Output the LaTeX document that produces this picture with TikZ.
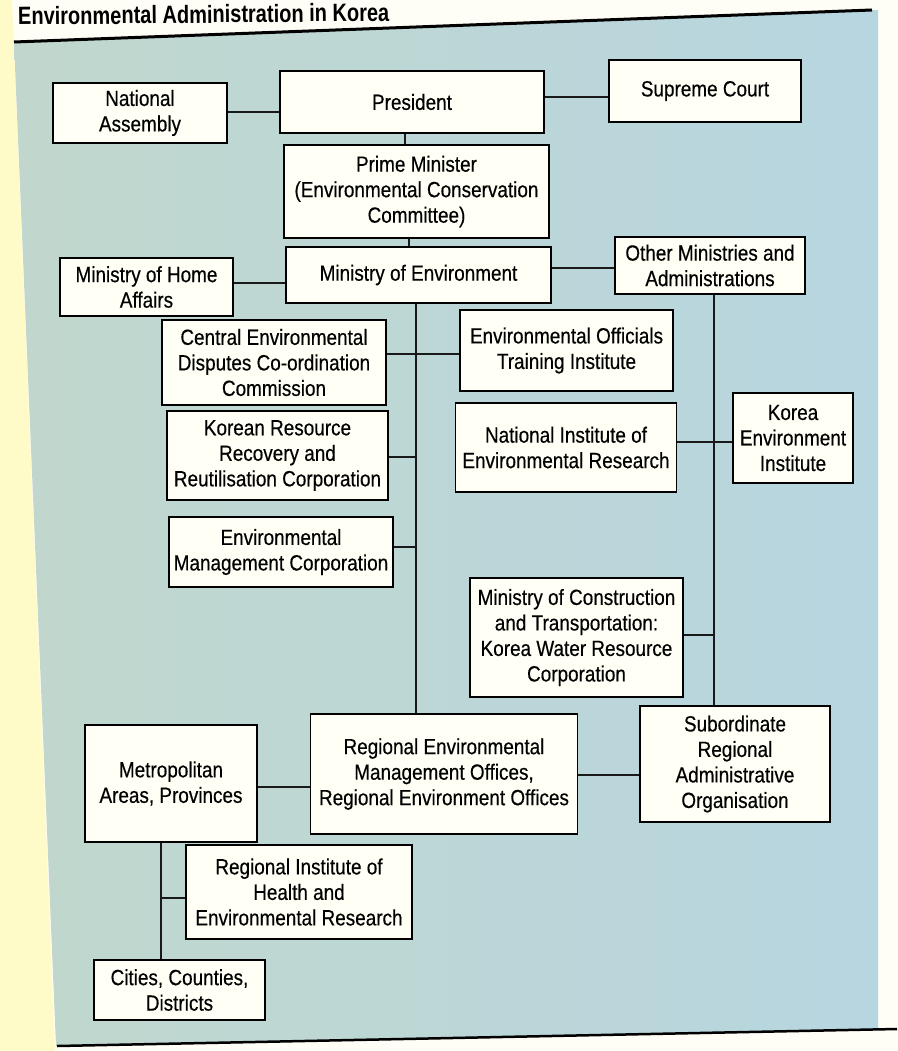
\documentclass[tikz,border=0pt]{standalone}
\usepackage{fontspec}
\setmainfont{Liberation Sans}[FakeStretch=0.86,FakeBold=0.4]
\newfontfamily\titlefont{Liberation Sans}[FakeStretch=0.8]
\definecolor{pagewhite}{HTML}{FFFEF6}
\definecolor{pageyellow}{HTML}{FFFBC9}
\definecolor{panelL}{HTML}{C1D7CD}
\definecolor{panelR}{HTML}{B7D6E0}
\definecolor{boxfill}{HTML}{FFFFF5}
\newcommand\bxfont{\fontsize{22}{25.5}\selectfont}
\tikzset{
  box/.style={draw=black, line width=1.8pt, fill=boxfill, inner sep=0pt, align=center, font=\bxfont, text=black},
  link/.style={line width=1.6pt, draw=black!90}
}
\begin{document}
\begin{tikzpicture}[x=1pt,y=-1pt]
\useasboundingbox (0,0) rectangle (897,1051);
% page
\fill[pagewhite] (0,0) rectangle (897,1051);
\fill[pageyellow] (0,0) -- (12,0) -- (55,1051) -- (0,1051) -- cycle;
\shade[left color=panelL, right color=panelR] (14,42) -- (878,10) -- (878,1029) -- (56,1046) -- cycle;
\draw[line width=3pt, black] (14,42) -- (872,10);
\draw[line width=2.5pt, black] (57,1046) -- (897,1029);
\node[anchor=base west, font=\titlefont\bfseries\fontsize{25}{28}\selectfont, inner sep=0pt, rotate=0.6] (title) at (18,25) {Environmental Administration in Korea};

% boxes
\node[box, minimum width=174pt, minimum height=60pt] (na) at (140,113) {National\\Assembly};
\node[box, minimum width=264pt, minimum height=62pt] (pres) at (412,102) {President};
\node[box, minimum width=192pt, minimum height=62pt] (sc) at (705,91) {Supreme Court};
\node[box, minimum width=265pt, minimum height=93pt] (pm) at (416.5,191.5) {Prime Minister\\(Environmental Conservation\\Committee)};
\node[box, minimum width=173pt, minimum height=58pt] (mha) at (146.5,287) {Ministry of Home\\Affairs};
\node[box, minimum width=265pt, minimum height=56pt] (menv) at (418.5,275) {Ministry of Environment};
\node[box, minimum width=190pt, minimum height=57pt] (oma) at (710,265.5) {Other Ministries and\\Administrations};
\node[box, minimum width=224pt, minimum height=85pt] (cedc) at (274,362.5) {Central Environmental\\Disputes Co-ordination\\Commission};
\node[box, minimum width=213pt, minimum height=81pt] (eoti) at (566.5,350.5) {Environmental Officials\\Training Institute};
\node[box, minimum width=221pt, minimum height=89pt] (krrr) at (277.5,455.5) {Korean Resource\\Recovery and\\Reutilisation Corporation};
\node[box, minimum width=221pt, minimum height=89pt] (nier) at (566,447.5) {National Institute of\\Environmental Research};
\node[box, minimum width=120pt, minimum height=90pt] (kei) at (793,438) {Korea\\Environment\\Institute};
\node[box, minimum width=224pt, minimum height=70pt] (emc) at (281,552) {Environmental\\Management Corporation};
\node[box, minimum width=213pt, minimum height=119pt] (moct) at (576.5,637.5) {Ministry of Construction\\and Transportation:\\Korea Water Resource\\Corporation};
\node[box, minimum width=172pt, minimum height=117pt] (metro) at (171,783.5) {Metropolitan\\Areas, Provinces};
\node[box, minimum width=267pt, minimum height=120pt] (remo) at (444,774) {Regional Environmental\\Management Offices,\\Regional Environment Offices};
\node[box, minimum width=190pt, minimum height=116pt] (srao) at (735,764) {Subordinate\\Regional\\Administrative\\Organisation};
\node[box, minimum width=226pt, minimum height=94pt] (riher) at (299,892) {Regional Institute of\\Health and\\Environmental Research};
\node[box, minimum width=171pt, minimum height=60pt] (ccd) at (179.5,990) {Cities, Counties,\\Districts};

% helper coordinates
\coordinate (xa) at (405,0);
\coordinate (xb) at (409,0);
\coordinate (tx) at (416,0);
\coordinate (rx) at (714,0);
\coordinate (mx) at (161,0);
\coordinate (ya) at (0,112);
\coordinate (yb) at (0,97);
\coordinate (yc) at (0,283);
\coordinate (yd) at (0,268);
\coordinate (ye) at (0,354);
\coordinate (yf) at (0,457);
\coordinate (yg) at (0,547);
\coordinate (yh) at (0,442);
\coordinate (yi) at (0,635);
\coordinate (yj) at (0,787);
\coordinate (yk) at (0,775);
\coordinate (yl) at (0,898);

% connectors
\draw[link] (na.east |- ya) -- (pres.west |- ya);
\draw[link] (pres.east |- yb) -- (sc.west |- yb);
\draw[link] (pres.south -| xa) -- (pm.north -| xa);
\draw[link] (pm.south -| xb) -- (menv.north -| xb);
\draw[link] (mha.east |- yc) -- (menv.west |- yc);
\draw[link] (menv.east |- yd) -- (oma.west |- yd);
\draw[link] (menv.south -| tx) -- (remo.north -| tx);
\draw[link] (cedc.east |- ye) -- (eoti.west |- ye);
\draw[link] (krrr.east |- yf) -- (yf -| tx);
\draw[link] (emc.east |- yg) -- (yg -| tx);
\draw[link] (oma.south -| rx) -- (srao.north -| rx);
\draw[link] (nier.east |- yh) -- (kei.west |- yh);
\draw[link] (moct.east |- yi) -- (yi -| rx);
\draw[link] (metro.east |- yj) -- (remo.west |- yj);
\draw[link] (remo.east |- yk) -- (srao.west |- yk);
\draw[link] (metro.south -| mx) -- (ccd.north -| mx);
\draw[link] (riher.west |- yl) -- (yl -| mx);
\end{tikzpicture}
\end{document}
